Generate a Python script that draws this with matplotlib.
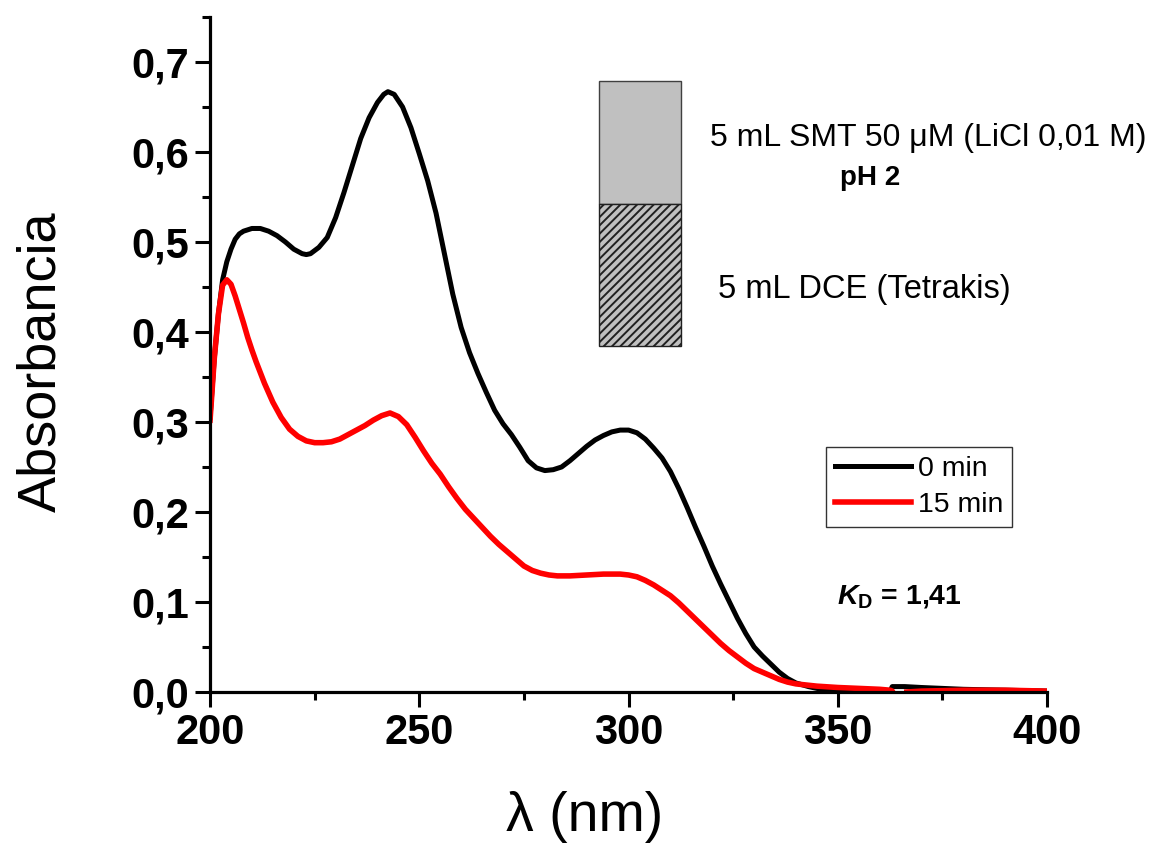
import numpy as np
import matplotlib
matplotlib.use("Agg")
import matplotlib.pyplot as plt
from matplotlib.patches import Rectangle
from matplotlib.ticker import MultipleLocator, FuncFormatter

# === Data ===
wl_0min = [200, 201, 202, 203, 204, 205, 206, 207, 208, 210, 212, 214, 216, 218,
           220, 222, 223, 224, 226, 228, 230, 232, 234, 236, 238, 240, 241.5,
           242.5, 244, 246, 248, 250, 252, 254, 256, 258, 260, 262, 264, 266,
           268, 270, 272, 274, 276, 278, 280, 282, 284, 286, 288, 290, 292, 294,
           296, 298, 300, 302, 304, 306, 308, 310, 312, 314, 316, 318, 320, 322,
           324, 326, 328, 330, 332, 334, 336, 338, 340, 343, 346, 350, 355,
           362.5, 363, 366, 370, 375, 380, 390, 400]
abs_0min = [0.305, 0.37, 0.42, 0.458, 0.478, 0.492, 0.503, 0.509, 0.512, 0.515,
            0.515, 0.512, 0.507, 0.500, 0.492, 0.487, 0.486, 0.487, 0.494, 0.505,
            0.527, 0.555, 0.585, 0.615, 0.638, 0.655, 0.664, 0.667, 0.664, 0.650,
            0.627, 0.598, 0.568, 0.532, 0.487, 0.442, 0.405, 0.377, 0.354, 0.333,
            0.313, 0.298, 0.286, 0.272, 0.257, 0.249, 0.246, 0.247, 0.250, 0.257,
            0.265, 0.273, 0.280, 0.285, 0.289, 0.291, 0.291, 0.288, 0.281, 0.271,
            0.260, 0.245, 0.226, 0.205, 0.183, 0.162, 0.140, 0.120, 0.101, 0.082,
            0.065, 0.050, 0.040, 0.031, 0.022, 0.015, 0.010, 0.006, 0.003, 0.001,
            0.0005, 0.0005, 0.006, 0.006, 0.005, 0.004, 0.003, 0.002, 0.001]

wl_15min = [200, 201, 202, 203, 204, 205, 206, 207, 208, 209, 210, 211, 213, 215,
            217, 219, 221, 223, 225, 227, 229, 231, 233, 235, 237, 239, 241, 243,
            245, 247, 249, 251, 253, 255, 257, 259, 261, 263, 265, 267, 269, 271,
            273, 275, 277, 279, 281, 283, 286, 290, 294, 298, 300, 302, 304, 306,
            308, 310, 312, 314, 316, 318, 320, 322, 324, 326, 328, 330, 332, 334,
            336, 338, 340, 345, 350, 355, 360, 362.5, 363, 363.5, 365, 366.5, 370,
            380, 390, 400]
abs_15min = [0.302, 0.37, 0.42, 0.452, 0.458, 0.453, 0.440, 0.425, 0.410, 0.394,
             0.380, 0.367, 0.343, 0.322, 0.305, 0.292, 0.284, 0.279, 0.277, 0.277,
             0.278, 0.281, 0.286, 0.291, 0.296, 0.302, 0.307, 0.310, 0.306, 0.297,
             0.283, 0.268, 0.254, 0.242, 0.228, 0.215, 0.203, 0.193, 0.183, 0.173,
             0.164, 0.156, 0.148, 0.140, 0.135, 0.132, 0.130, 0.129, 0.129, 0.130,
             0.131, 0.131, 0.130, 0.128, 0.124, 0.119, 0.113, 0.107, 0.099, 0.090,
             0.081, 0.072, 0.063, 0.054, 0.046, 0.039, 0.032, 0.026, 0.022, 0.018,
             0.014, 0.011, 0.009, 0.0065, 0.005, 0.004, 0.003, 0.002, 0.001, -0.003,
             np.nan, 0.0, 0.001, 0.002, 0.002, 0.001]

series_labels = ["0 min", "15 min"]
series_colors = ["black", "#ff0000"]

# === Plot ===
plt.rcParams["font.family"] = ["Liberation Sans", "DejaVu Sans"]
plt.rcParams["mathtext.fontset"] = "custom"
plt.rcParams["mathtext.it"] = "Liberation Sans:bold:italic"
plt.rcParams["mathtext.bf"] = "Liberation Sans:bold"
plt.rcParams["mathtext.rm"] = "Liberation Sans:bold"
plt.rcParams["hatch.linewidth"] = 1.4

fig = plt.figure(figsize=(11.51, 8.44), dpi=100)
ax = fig.add_axes([0.1825, 0.1801, 0.7272, 0.7998])

ax.plot(wl_0min, abs_0min, color=series_colors[0], lw=3.6, label=series_labels[0])
ax.plot(wl_15min, abs_15min, color=series_colors[1], lw=4.0, label=series_labels[1])

ax.set_xlim(200, 400)
ax.set_ylim(0, 0.75)
ax.xaxis.set_major_locator(MultipleLocator(50))
ax.xaxis.set_minor_locator(MultipleLocator(25))
ax.yaxis.set_major_locator(MultipleLocator(0.1))
ax.yaxis.set_minor_locator(MultipleLocator(0.05))
ax.yaxis.set_major_formatter(FuncFormatter(lambda v, p: f"{v:.1f}".replace(".", ",")))
ax.xaxis.set_major_formatter(FuncFormatter(lambda v, p: f"{v:.0f}"))

for side in ["top", "right"]:
    ax.spines[side].set_visible(False)
for side in ["left", "bottom"]:
    ax.spines[side].set_linewidth(2.3)

ax.tick_params(which="major", direction="out", length=11, width=2.2, pad=4,
               labelsize=30)
ax.tick_params(which="minor", direction="out", length=6, width=2.2)
for lbl in ax.get_xticklabels() + ax.get_yticklabels():
    lbl.set_fontweight("bold")

ax.set_ylabel("Absorbancia", fontsize=39)
ax.set_xlabel("λ (nm)", fontsize=40)
ax.yaxis.set_label_coords(-0.172, 0.49)
ax.xaxis.set_label_coords(0.448, -0.147)

# two-phase vial sketch
ax.add_patch(Rectangle((0.4648, 0.7223), 0.098, 0.1832, transform=ax.transAxes,
                       facecolor="#c0c0c0", edgecolor="#404040", lw=1.0))
ax.add_patch(Rectangle((0.4648, 0.5126), 0.098, 0.2097, transform=ax.transAxes,
                       facecolor="#c0c0c0", edgecolor="#202020", hatch="////", lw=1.0))

ax.text(0.5974, 0.8213, "5 mL SMT 50 μM (LiCl 0,01 M)", transform=ax.transAxes,
        fontsize=23, ha="left", va="center")
ax.text(0.7527, 0.7607, "pH 2", transform=ax.transAxes, fontsize=20,
        fontweight="bold", ha="left", va="center")
ax.text(0.607, 0.5968, "5 mL DCE (Tetrakis)", transform=ax.transAxes,
        fontsize=23.5, ha="left", va="center")
ax.text(0.749, 0.1315, r"$K_{\mathbf{D}}$ = 1,41", transform=ax.transAxes,
        fontsize=20.5, fontweight="bold", ha="left", va="baseline")

leg = ax.legend(loc="upper left", bbox_to_anchor=(0.736, 0.3634), borderaxespad=0,
                fontsize=20.5, handlelength=2.65, handletextpad=0.25, labelspacing=0.35,
                fancybox=False, frameon=True, borderpad=0.32)
leg.get_frame().set_edgecolor("black")
leg.get_frame().set_linewidth(1.0)

fig.savefig("out.png", dpi=100)
